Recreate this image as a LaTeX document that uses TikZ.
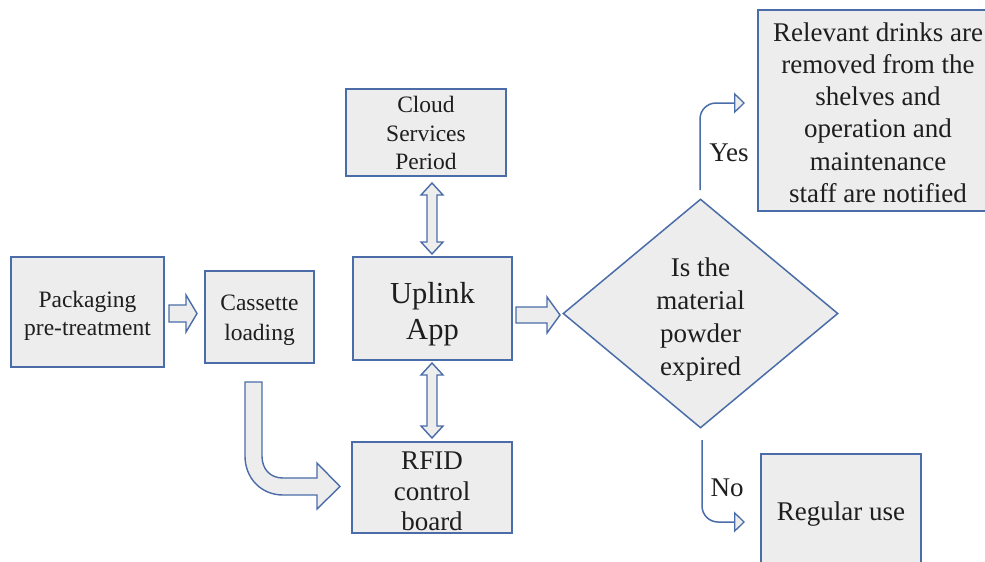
\documentclass[tikz,border=0pt]{standalone}
\usepackage{fontspec}
\setmainfont{Liberation Serif}
\usetikzlibrary{shapes.geometric,arrows.meta}
\definecolor{bord}{RGB}{74,108,168}
\definecolor{boxfill}{RGB}{237,237,237}
\definecolor{txt}{RGB}{30,30,30}
\newcommand{\fsz}[2]{\rmfamily\fontsize{#1}{#2}\selectfont}
\tikzset{
  box/.style={draw=bord,fill=boxfill,line width=1.5pt,inner sep=0pt},
  boxtext/.style={inner sep=0pt,align=center,text=txt},
  blockarrow/.style={draw=bord,fill=boxfill,line width=1.4pt,line join=miter},
  flow/.style={draw=bord,line width=1.5pt,rounded corners=16pt,
    -{Triangle[length=11pt,width=21pt,fill=boxfill,line width=1.3pt]}},
  lbl/.style={text=txt,inner sep=0pt}
}
\begin{document}
\begin{tikzpicture}[x=1pt,y=-1pt]
\useasboundingbox (0,0) rectangle (985,562);
% boxes
\node[box,minimum width=153pt,minimum height=110pt] (pack) at (87.5,312) {};
\node[boxtext,font=\fsz{23.5}{28}] (packT) at ([yshift=-4pt]pack.center) {Packaging\\pre-treatment};
\node[box,minimum width=109pt,minimum height=92pt] (cass) at (259.5,317) {};
\node[boxtext,font=\fsz{23.5}{30}] (cassT) at ([yshift=-3pt]cass.center) {Cassette\\loading};
\node[box,minimum width=160pt,minimum height=87pt] (cloud) at (426,132.5) {};
\node[boxtext,font=\fsz{23.5}{28.5}] (cloudT) at ([yshift=-0.5pt]cloud.center) {Cloud\\Services\\Period};
\node[box,minimum width=159pt,minimum height=103pt] (uplink) at (432.5,308.5) {};
\node[boxtext,font=\fsz{30.5}{36}] (uplinkT) at ([yshift=-6pt]uplink.center) {Uplink\\App};
\node[box,minimum width=160pt,minimum height=91pt] (rfid) at (432,487.5) {};
\node[boxtext,font=\fsz{27}{30.5}] (rfidT) at ([yshift=-4pt]rfid.center) {RFID\\control\\board};
\node[box,shape=diamond,minimum width=275pt,minimum height=229pt] (dia) at (700.5,313.5) {};
\node[boxtext,font=\fsz{27}{33}] (diaT) at ([yshift=-6pt]dia.center) {Is the\\material\\powder\\expired};
\node[box,minimum width=240pt,minimum height=201pt] (rel) at (878,110.5) {};
\node[boxtext,font=\fsz{27}{32.2}] (relT) at ([yshift=-2pt]rel.center) {Relevant drinks are\\removed from the\\shelves and\\operation and\\maintenance\\staff are notified};
\node[box,minimum width=160pt,minimum height=116pt] (reg) at (841,512) {};
\node[boxtext,font=\fsz{27}{32}] (regT) at ([yshift=-2pt]reg.center) {Regular use};
% block arrow pack -> cass
\draw[blockarrow] (169,305) -- (186,305) -- (186,295) -- (197,313.5) -- (186,332) -- (186,322) -- (169,322) -- cycle;
% block arrow uplink -> diamond
\draw[blockarrow] (516,307) -- (547,307) -- (547,297) -- (560,315) -- (547,333) -- (547,323) -- (516,323) -- cycle;
% double arrows
\draw[blockarrow] (432,183) -- (443,195) -- (437,195) -- (437,242) -- (443,242) -- (432,254) -- (421,242) -- (427,242) -- (427,195) -- (421,195) -- cycle;
\draw[blockarrow] (432,363) -- (443,375) -- (437,375) -- (437,426) -- (443,426) -- (432,438) -- (421,426) -- (427,426) -- (427,375) -- (421,375) -- cycle;
% bent arrow cass -> rfid
\draw[blockarrow] (245,382) -- (262,382) -- (262,456)
  .. controls (262,469) and (270,478) .. (283,478) -- (317,478) -- (317,463) -- (340,486.5) -- (317,509) -- (317,495) -- (283,495)
  .. controls (261,495) and (245,478) .. (245,456) -- cycle;
% decision connectors
\coordinate (ys) at (700,190);
\coordinate (ye) at (745,103);
\coordinate (ns) at (702,440);
\coordinate (ne) at (745,522);
\draw[flow] (ys) |- (ye);
\draw[flow] (ns) |- (ne);
\node[lbl,font=\fsz{27}{32}] (yes) at (729,153) {Yes};
\node[lbl,font=\fsz{27}{32}] (no) at (727,488) {No};
\end{tikzpicture}
\end{document}
